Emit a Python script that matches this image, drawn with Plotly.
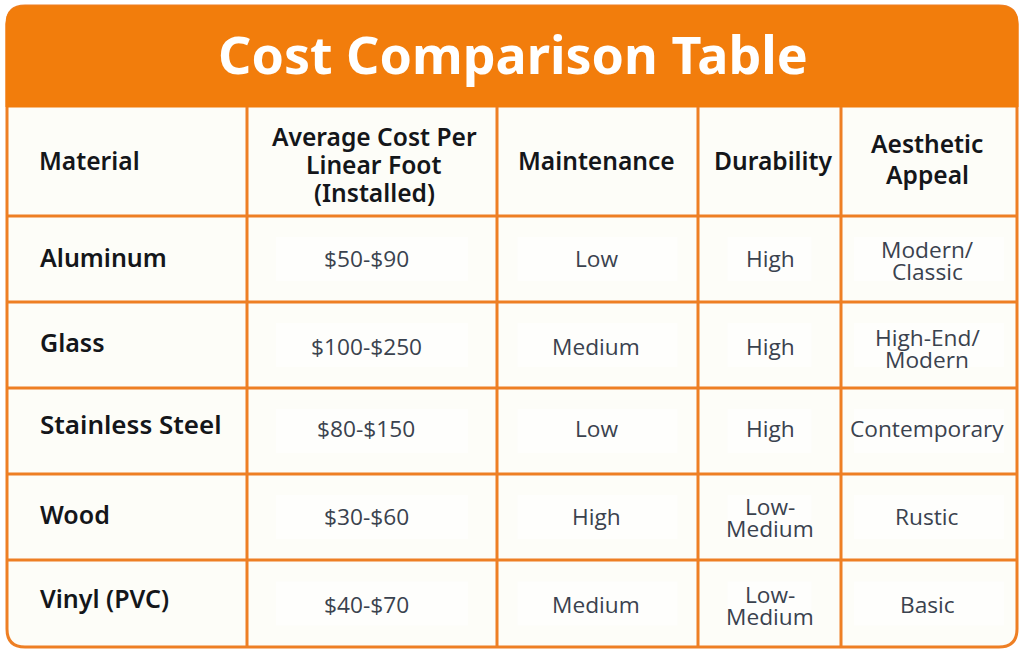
import plotly.graph_objects as go

TITLE = "Cost Comparison Table"
HEADERS = ["Material", "Average Cost Per<br>Linear Foot<br>(Installed)", "Maintenance", "Durability", "Aesthetic<br>Appeal"]
MATERIALS = ["Aluminum", "Glass", "Stainless Steel", "Wood", "Vinyl (PVC)"]
COST = ["$50-$90", "$100-$250", "$80-$150", "$30-$60", "$40-$70"]
MAINTENANCE = ["Low", "Medium", "Low", "High", "Medium"]
DURABILITY = ["High", "High", "High", "Low-<br>Medium", "Low-<br>Medium"]
APPEAL = ["Modern/<br>Classic", "High-End/<br>Modern", "Contemporary", "Rustic", "Basic"]

# layout in page pixels
COL_EDGES = [7, 247, 497, 698, 841, 1017]
ROW_EDGES = [107, 216, 302, 388, 474, 560, 647]
COL_X = [36.5, 374, 596, 773, 927]
HEADER_Y = [160, 164, 160, 160, 159]
HEADER_GAP = [0, 28, 0, 0, 31]
MATERIAL_Y = [257, 342, 424, 514, 598]
MATERIAL_SIZE = [25, 25, 26, 25, 25]
COST_X = 366
COL_Y = {
    "cost": [258, 346, 428, 516, 604],
    "maintenance": [258, 346, 428, 516, 604],
    "durability": [258, 346, 428, 517, 605],
    "appeal": [260, 348, 428, 516, 604],
}

ORANGE = "#F27D0C"
LINE = "#EE7F24"
CREAM = "#FDFDF8"
PATCH = "#FEFEFC"
HEAD_FONT = "Noto Sans"
BODY_FONT = "Open Sans"
LEFT, RIGHT, TOP, BOTTOM, R = 7, 1017, 6, 647, 18

fig = go.Figure()
shapes = []
annotations = []


def add_text(text, x, y, size, color, family, weight=400, gap=22, anchor="center"):
    lines = text.split("<br>")
    for i, line in enumerate(lines):
        annotations.append(dict(
            text=line, x=x, y=y + (i - (len(lines) - 1) / 2) * gap,
            xref="x", yref="y", showarrow=False, xanchor=anchor, yanchor="middle",
            font=dict(family=family, size=size, color=color, weight=weight),
        ))


# table body with rounded outline
shapes.append(dict(
    type="path", xref="x", yref="y", fillcolor=CREAM, line=dict(color=LINE, width=3),
    path=f"M{LEFT},{TOP + R} Q{LEFT},{TOP} {LEFT + R},{TOP} L{RIGHT - R},{TOP} Q{RIGHT},{TOP} {RIGHT},{TOP + R} "
         f"L{RIGHT},{BOTTOM - R} Q{RIGHT},{BOTTOM} {RIGHT - R},{BOTTOM} L{LEFT + R},{BOTTOM} "
         f"Q{LEFT},{BOTTOM} {LEFT},{BOTTOM - R} Z",
))

# lighter patches behind the values
for c, width in zip(range(1, 5), [192, 160, 84, 150]):
    mid = (COL_EDGES[c] + COL_EDGES[c + 1]) / 2
    for r in range(5):
        ymid = (ROW_EDGES[r + 1] + ROW_EDGES[r + 2]) / 2
        shapes.append(dict(type="rect", xref="x", yref="y", x0=mid - width / 2, x1=mid + width / 2,
                           y0=ymid - 22, y1=ymid + 22, fillcolor=PATCH, line_width=0))

# title band
shapes.append(dict(
    type="path", xref="x", yref="y", fillcolor=ORANGE, line=dict(color=ORANGE, width=1),
    path=f"M{LEFT - 1},{TOP + R} Q{LEFT - 1},{TOP} {LEFT + R},{TOP} L{RIGHT - R},{TOP} "
         f"Q{RIGHT + 1},{TOP} {RIGHT + 1},{TOP + R} L{RIGHT + 1},{ROW_EDGES[0]} L{LEFT - 1},{ROW_EDGES[0]} Z",
))

# grid lines
for x in COL_EDGES[1:-1]:
    shapes.append(dict(type="line", xref="x", yref="y", x0=x, x1=x, y0=ROW_EDGES[0], y1=BOTTOM,
                       line=dict(color=LINE, width=3)))
for y in ROW_EDGES[1:-1]:
    shapes.append(dict(type="line", xref="x", yref="y", x0=LEFT, x1=RIGHT, y0=y, y1=y,
                       line=dict(color=LINE, width=3)))

add_text(TITLE, 513, 53, 52, "#FFFFFF", HEAD_FONT, weight=700)

for i, head in enumerate(HEADERS):
    add_text(head, COL_X[i], HEADER_Y[i], 24.6, "#14161A", HEAD_FONT, weight=600, gap=HEADER_GAP[i],
             anchor="left" if i == 0 else "center")

for name, y, size in zip(MATERIALS, MATERIAL_Y, MATERIAL_SIZE):
    add_text(name, COL_X[0] + 1, y, size, "#14161A", HEAD_FONT, weight=600, anchor="left")

for values, x, key in [(COST, COST_X, "cost"), (MAINTENANCE, COL_X[2], "maintenance"),
                       (DURABILITY, 770, "durability"), (APPEAL, COL_X[4], "appeal")]:
    for value, y in zip(values, COL_Y[key]):
        add_text(value, x, y, 22.7, "#3A424E", BODY_FONT)

fig.update_layout(
    width=1024, height=657, margin=dict(l=0, r=0, t=0, b=0),
    paper_bgcolor="#FFFFFF", plot_bgcolor="#FFFFFF", showlegend=False,
    xaxis=dict(range=[0, 1024], visible=False, fixedrange=True),
    yaxis=dict(range=[657, 0], visible=False, fixedrange=True),
    shapes=shapes, annotations=annotations,
)
fig.write_html("out.html", config={"displayModeBar": False},
               post_script="document.body.style.margin='0';")
